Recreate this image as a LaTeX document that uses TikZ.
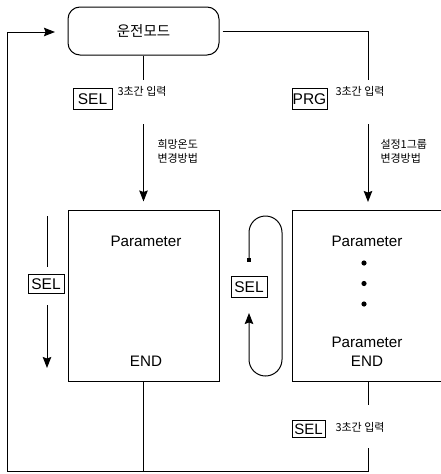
\documentclass[tikz,border=0pt]{standalone}
\usepackage{fontspec}
\setmainfont{Liberation Sans}
\newfontfamily\kr{Noto Sans CJK KR}
\usetikzlibrary{arrows.meta}
\begin{document}
\begin{tikzpicture}[x=1pt,y=-1pt,line width=1pt,
  tip/.style={-{Stealth[length=11pt,width=8.5pt,inset=1.5pt]}},
  keybox/.style={draw,line width=0.6pt,inner sep=0pt,minimum width=#1,minimum height=21pt,font=\fontsize{15.5}{15.5}\selectfont},
  small/.style={font=\kr\fontsize{11}{14}\selectfont,inner sep=0pt,align=left},
  param/.style={font=\fontsize{15.2}{16}\selectfont,inner sep=0pt},
  bigbox/.style={draw,minimum width=151pt,minimum height=171pt,inner sep=0pt}]
\useasboundingbox (0,0) rectangle (441,474);
\clip (0,0) rectangle (441,474);
% main nodes
\node[draw,rounded corners=12pt,minimum width=151pt,minimum height=48pt,inner sep=0pt,font=\kr\fontsize{14.5}{16}\selectfont] (run) at (143.5,31) {운전모드};
\node[bigbox] (boxL) at (143.5,295.5) {};
\node[draw,minimum width=170pt,minimum height=171pt,inner sep=0pt] (boxR) at (377,295.5) {};
% keys
\node[keybox=39pt] (selA) at (92.5,99) {SEL};
\node[keybox=35pt] (prg) at (309.5,99) {PRG};
\node[keybox=36pt,minimum height=19pt] (selL) at (46,284) {SEL};
\node[keybox=36pt] (selM) at (249,287) {SEL};
\node[keybox=33pt,minimum height=17pt,font=\fontsize{15}{15}\selectfont] (selB) at (308.5,429) {SEL};
% labels
\node[small,anchor=north west] (tA) at (117,86) {3초간 입력};
\node[small,anchor=north west] (tP) at (335,86) {3초간 입력};
\node[small,anchor=west] (tB) at (335,427) {3초간 입력};
\node[small,anchor=north west] (dA) at (157,139) {희망온도\\변경방법};
\node[small,anchor=north west] (dP) at (380,139) {설정1그룹\\변경방법};
% box contents
\node[param] (pL) at (146,241) {Parameter};
\node[param] (eL) at (146,361) {END};
\node[param] (pR) at (367,241) {Parameter};
\node[param] (pR2) at (367,342) {Parameter};
\node[param] (eR) at (367,361) {END};
\fill (364,263) circle[radius=2.6pt];
\fill (364,283.5) circle[radius=2.6pt];
\fill (364,304) circle[radius=2.6pt];
% connectors
\coordinate (a1) at (143.5,80);
\coordinate (a2) at (143.5,124);
\draw (run.south) -- (a1);
\draw[tip,shorten >=8pt] (a2) -- (boxL.north);
\coordinate (r1) at (368,80);
\coordinate (r2) at (368,124);
\draw ([xshift=3pt]run.east) -| (r1);
\draw[tip] (r2) -- (368,202);
% left SEL arrow
\coordinate (l1) at (47,216);
\coordinate (l2) at (47,267);
\coordinate (l3) at (47,305);
\coordinate (l4) at (47,368);
\draw (l1) -- (l2);
\draw[tip] (l3) -- (l4);
% loop
\node[fill,minimum size=4pt,inner sep=0pt] (sq) at (249,260) {};
\draw[tip,rounded corners=16.5pt] (sq.center) -- (249,216) -- (282,216) -- (282,376) -- (249,376) -- (249,313);
% bottom
\coordinate (bl) at (7,471);
\coordinate (br) at (368,471);
\draw (368,381) -- (368,405);
\draw (368,448) -- (br) -- (bl);
\draw (boxL.south) -- (boxL.south |- bl);
\draw[tip] (bl) -- (7,32) -- (55,32);
\end{tikzpicture}
\end{document}
